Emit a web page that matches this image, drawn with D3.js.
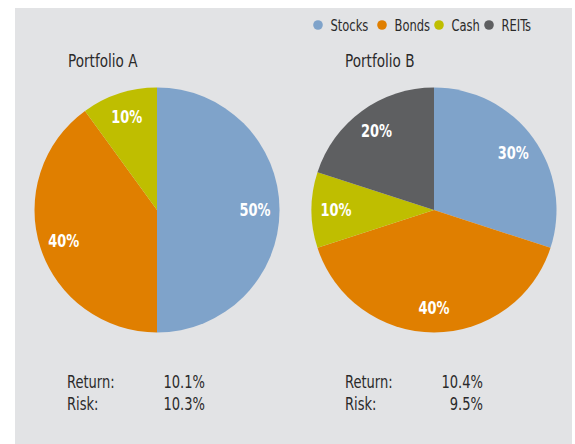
<!DOCTYPE html>
<html><head><meta charset="utf-8">
<script src="https://cdn.jsdelivr.net/npm/d3@7"></script>
<style>
html,body{margin:0;padding:0;background:#fff;}
svg{display:block;}
text{font-family:"DejaVu Sans Condensed","Liberation Sans Narrow","Roboto Condensed",sans-serif;}
</style></head>
<body>
<svg id="c" width="575" height="444"></svg>
<script>
const categories = ["Stocks","Bonds","Cash","REITs"];
const colors = ["#7fa3ca","#e07f00","#bfbe00","#5e5f61"];
const portfolioNames = ["Portfolio A","Portfolio B"];
const portfolioA = [50,40,10,0];
const portfolioB = [30,40,10,20];
const returns = ["10.1%","10.4%"];
const risks = ["10.3%","9.5%"];

const svg = d3.select("#c");
svg.append("rect").attr("x",15).attr("y",8).attr("width",557).attr("height",436).attr("fill","#e2e3e5");

const color = d3.scaleOrdinal().domain(categories).range(colors);

function txt(parent, x, y, s, size, sx, opts={}) {
  return parent.append("text")
    .attr("transform", `translate(${x},${y}) scale(${sx},1)`)
    .attr("font-size", size)
    .attr("fill", opts.fill || "#2a2a2a")
    .attr("font-weight", opts.weight || "normal")
    .attr("text-anchor", opts.anchor || "start")
    .attr("dy", opts.dy || null)
    .text(s);
}

// legend
const legendX = [318, 382, 439, 489];
categories.forEach((c,i)=>{
  svg.append("circle").attr("cx",legendX[i]).attr("cy",25).attr("r",4.8).attr("fill",color(c));
  txt(svg, legendX[i]+12.5, 30.5, c, 16, 0.8);
});

const pies = [
  {name:portfolioNames[0], values:portfolioA, cx:157, cy:210, tx:68, vx:205, lx:67, ret:returns[0], risk:risks[0]},
  {name:portfolioNames[1], values:portfolioB, cx:434, cy:210, tx:345, vx:483, lx:345, ret:returns[1], risk:risks[1]}
];
const R = 122.5;
const pie = d3.pie().sort(null).value(d=>d.v);
const arc = d3.arc().innerRadius(0).outerRadius(R);
const labelArc = d3.arc().innerRadius(R*0.8).outerRadius(R*0.8);

pies.forEach(p=>{
  txt(svg, p.tx, 67, p.name, 18, 0.84);
  const g = svg.append("g").attr("transform",`translate(${p.cx},${p.cy})`);
  const data = categories.map((c,i)=>({c, v:p.values[i]}));
  const arcs = pie(data).filter(d=>d.data.v>0);
  g.selectAll("path").data(arcs).join("path").attr("d",arc).attr("fill",d=>color(d.data.c));
  arcs.forEach(d=>{
    const [x,y] = labelArc.centroid(d);
    txt(g, x, y, d.data.v+"%", 18, 0.8, {fill:"#fff", weight:"bold", anchor:"middle", dy:"0.36em"});
  });
  txt(svg, p.lx, 388, "Return:", 17.5, 0.83);
  txt(svg, p.lx, 410, "Risk:", 17.5, 0.83);
  txt(svg, p.vx, 388, p.ret, 17.5, 0.83, {anchor:"end"});
  txt(svg, p.vx, 410, p.risk, 17.5, 0.83, {anchor:"end"});
});
</script>
</body></html>
